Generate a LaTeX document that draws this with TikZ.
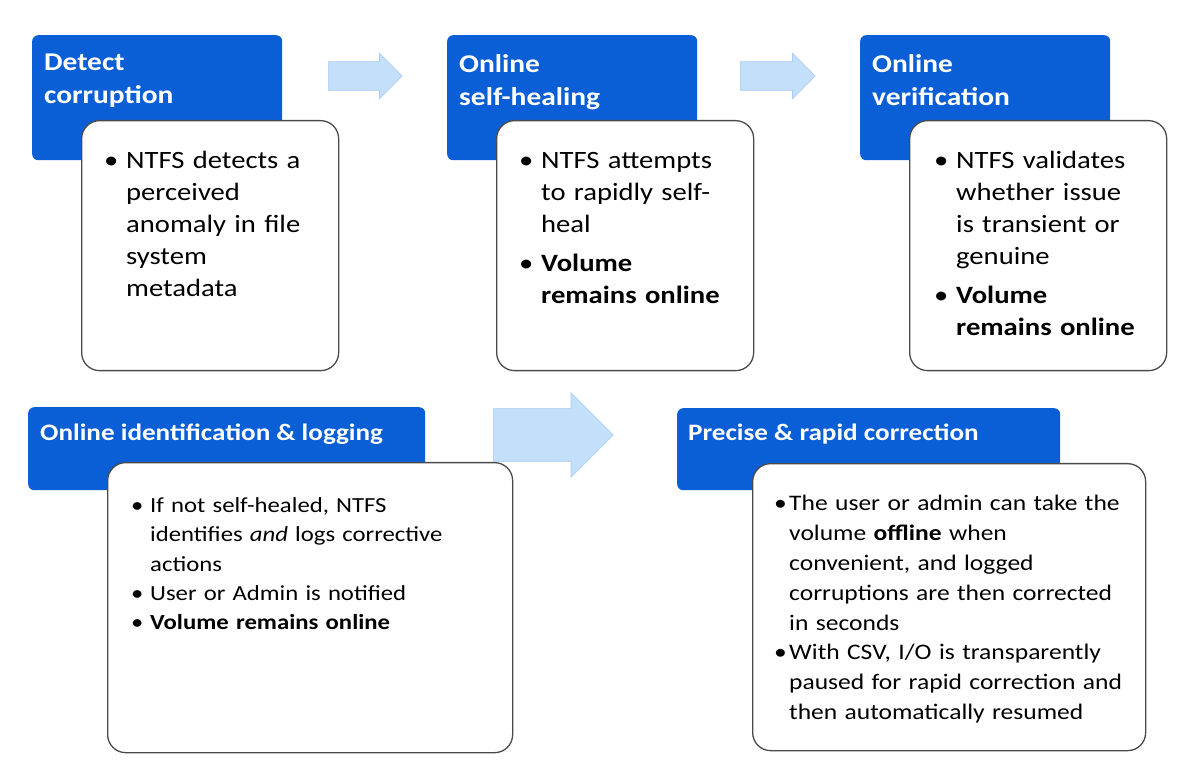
\documentclass[tikz,border=0pt]{standalone}
\usepackage{fontspec}
\setmainfont{Carlito}[FakeStretch=1.15]
\usepackage{tikz}
\usetikzlibrary{positioning,shapes.arrows}
\definecolor{HeadBlue}{HTML}{0A5FD6}
\definecolor{CardEdge}{HTML}{4A4A4A}
\definecolor{ArrowBlue}{HTML}{C4DFFA}
\newcommand{\bitem}[1][22pt]{\par\noindent\hangindent=#1\hangafter=1\makebox[#1][l]{\textbullet}}
\newcommand{\gap}{\par\vspace{7pt}}

\begin{document}
\begin{tikzpicture}[x=1pt,y=-1pt,
  headbox/.style={fill=HeadBlue,rounded corners=6pt,anchor=north west,inner sep=0pt},
  card/.style={draw=CardEdge,line width=1.3pt,fill=white,rounded corners=18pt,anchor=north west,inner sep=0pt},
  headtext/.style={anchor=north west,inner sep=0pt,text=white,align=left,font=\fontsize{25.6}{33}\selectfont\bfseries},
  cardtext/.style={anchor=north west,inner sep=0pt,align=left,font=\fontsize{24.9}{32}\selectfont},
  flow/.style={single arrow,fill=ArrowBlue,draw=ArrowBlue!85!HeadBlue,line width=.6pt,inner xsep=0pt,anchor=west,single arrow head extend=#1}]
\useasboundingbox (0,0) rectangle (1200,783);
% top row: heading + card
\foreach \n/\x in {1/32,2/447,3/860}{
  \node[headbox,minimum width=250,minimum height=125] (head\n) at (\x,35) {};
  \node[card,minimum width=257,minimum height=250] (card\n) at (\x+49,120) {};
}
\node[headtext] (title1) at ([shift={(12,19)}]head1.north west) {Detect\\corruption};
\node[headtext] (title2) at ([shift={(12,19)}]head2.north west) {Online\\self-healing};
\node[headtext] (title3) at ([shift={(12,19)}]head3.north west) {Online\\verification};
\node[cardtext,text width=240] (text1) at ([shift={(23,16)}]card1.north west)
  {\bitem NTFS detects a\newline perceived\newline anomaly in file\newline system\newline metadata\par};
\node[cardtext,text width=240] (text2) at ([shift={(23,16)}]card2.north west)
  {\bitem NTFS attempts\newline to rapidly self-\newline heal\gap\bitem\textbf{Volume\newline remains online}\par};
\node[cardtext,text width=240] (text3) at ([shift={(25,16)}]card3.north west)
  {\bitem NTFS validates\newline whether issue\newline is transient or\newline genuine\gap\bitem\textbf{Volume\newline remains online}\par};
% bottom row
\node[headbox,minimum width=397,minimum height=83] (head4) at (28,407) {};
\node[card,minimum width=405,minimum height=290] (card4) at (107,462) {};
\node[headtext,font=\fontsize{23.6}{30}\selectfont\bfseries] (title4) at ([shift={(12,17)}]head4.north west) {Online identification \& logging};
\node[cardtext,text width=385,font=\fontsize{21.5}{29.3}\selectfont] (text4) at ([shift={(24,21)}]card4.north west)
  {\bitem[19pt]If not self-healed, NTFS\newline identifies \textit{and} logs corrective\newline actions\bitem[19pt]User or Admin is notified\bitem[19pt]\textbf{Volume remains online}\par};
\node[headbox,minimum width=383,minimum height=82] (head5) at (677,408) {};
\node[card,minimum width=393,minimum height=287] (card5) at (752,463) {};
\node[headtext,font=\fontsize{23.6}{30}\selectfont\bfseries] (title5) at ([shift={(11,16)}]head5.north west) {Precise \& rapid correction};
\node[cardtext,text width=380,font=\fontsize{22.2}{29.8}\selectfont] (text5) at ([shift={(22,18)}]card5.north west)
  {\bitem[15pt]The user or admin can take the\newline volume \textbf{offline} when\newline convenient, and logged\newline corruptions are then corrected\newline in seconds\bitem[15pt]With CSV, I/O is transparently\newline paused for rapid correction and\newline then automatically resumed\par};
% flow arrows
\node[flow=8.5,inner ysep=14pt,minimum height=74] (arr1) at (328,76) {};
\node[flow=8.5,inner ysep=14pt,minimum height=75] (arr2) at (740,76) {};
\node[flow=16,inner ysep=26pt,minimum height=120] (arr3) at (493,435) {};
\end{tikzpicture}
\end{document}
